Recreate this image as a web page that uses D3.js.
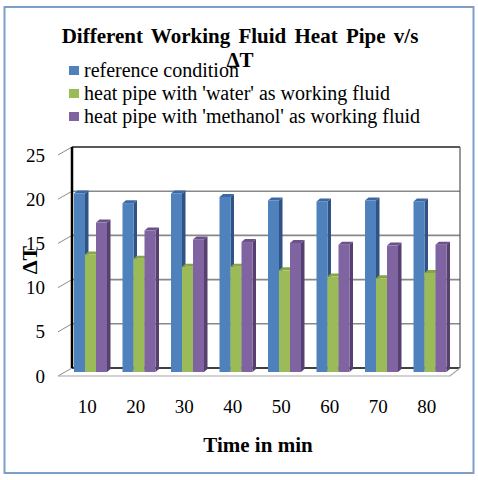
<!DOCTYPE html>
<html>
<head>
<meta charset="utf-8">
<script src="https://cdn.jsdelivr.net/npm/d3@7"></script>
<style>
  body { margin: 0; background: #fff; }
</style>
</head>
<body>
<div id="chart"></div>
<script>
// data
const times = ['10', '20', '30', '40', '50', '60', '70', '80']
const seriesNames = [
  'reference condition',
  "heat pipe with 'water' as working fluid",
  "heat pipe with 'methanol' as working fluid",
]
const reference = [20.2, 19.1, 20.2, 19.8, 19.4, 19.3, 19.4, 19.3]
const water = [13.3, 12.8, 11.9, 11.9, 11.5, 10.8, 10.6, 11.2]
const methanol = [16.9, 16.0, 15.0, 14.7, 14.6, 14.4, 14.3, 14.4]
const yTicks = [0, 5, 10, 15, 20, 25]

const seriesValues = [reference, water, methanol]
const colors = [
  { front: '#4f81bd', side: '#2f5384', top: '#3c69a5' },
  { front: '#9bbb59', side: '#6f8a3a', top: '#86a546' },
  { front: '#8064a2', side: '#56406f', top: '#6a5189' },
]

const serif = "'Liberation Serif', 'Times New Roman', Times, serif"

const dms = { width: 478, height: 480 }
// 3d box: front floor and back wall
const front = { left: 62, right: 450, bottom: 376 }
const depth = { dx: 10, dy: -8 }

const svg = d3.select('#chart')
  .append('svg')
  .attr('width', dms.width)
  .attr('height', dms.height)
  .attr('font-family', serif)

// outer frame
svg.append('rect')
  .attr('x', 4.5).attr('y', 7)
  .attr('width', 469).attr('height', 466)
  .attr('fill', 'none')
  .attr('stroke', '#7f9fc9')
  .attr('stroke-width', 2)

// scales: y on the back wall, x along the front floor
const yScale = d3.scaleLinear()
  .domain([0, 25])
  .range([front.bottom + depth.dy, 147])

const xScale = d3.scaleBand()
  .domain(times)
  .range([front.left, front.right])

const xInner = d3.scaleBand()
  .domain(d3.range(3))
  .range([7, 40])

const backLeft = front.left + depth.dx
const backRight = front.right + depth.dx

// back wall grid
const grid = svg.append('g').attr('id', 'grid')
grid.selectAll('line.h')
  .data(yTicks)
  .join('line')
  .attr('class', 'h')
  .attr('x1', backLeft).attr('x2', backRight)
  .attr('y1', d => yScale(d)).attr('y2', d => yScale(d))
  .attr('stroke', d => d === 0 ? '#000' : (d === 25 ? '#222' : '#888'))
  .attr('stroke-width', 1.6)

// left wall: diagonal ticks to the front
grid.selectAll('line.d')
  .data(yTicks)
  .join('line')
  .attr('class', 'd')
  .attr('x1', front.left - 4).attr('x2', backLeft)
  .attr('y1', d => yScale(d) - depth.dy).attr('y2', d => yScale(d))
  .attr('stroke', '#8c8c8c')
  .attr('stroke-width', 1)

// back wall left (axis) and right edges
grid.append('line')
  .attr('x1', backLeft).attr('x2', backLeft)
  .attr('y1', yScale(0)).attr('y2', yScale(25))
  .attr('stroke', '#000').attr('stroke-width', 2.5)
grid.append('line')
  .attr('x1', backRight).attr('x2', backRight)
  .attr('y1', yScale(0)).attr('y2', yScale(25))
  .attr('stroke', '#555').attr('stroke-width', 1.2)

// floor front edge and right edge
grid.append('path')
  .attr('d', `M${front.left - 4},${front.bottom} L${front.right},${front.bottom} L${backRight},${yScale(0)}`)
  .attr('fill', 'none')
  .attr('stroke', '#a6a6a6')
  .attr('stroke-width', 1.2)

// bars, sitting half way into the depth
const mid = { dx: depth.dx / 2, dy: depth.dy / 2 }
const barW = xInner.bandwidth()
const side = { dx: 3.5, dy: -3 }

const bars = []
times.forEach((t, i) => {
  seriesValues.forEach((vals, s) => {
    bars.push({ t, s, v: vals[i] })
  })
})

const barG = svg.append('g').attr('id', 'bars')
  .selectAll('g')
  .data(bars)
  .join('g')

barG.each(function (d) {
  const g = d3.select(this)
  const x0 = xScale(d.t) + xInner(d.s) + mid.dx
  const x1 = x0 + barW
  const yb = yScale(0) - depth.dy + mid.dy
  const yt = yScale(d.v) - depth.dy + mid.dy
  const c = colors[d.s]
  // right side
  g.append('path')
    .attr('d', `M${x1},${yb} L${x1 + side.dx},${yb + side.dy} L${x1 + side.dx},${yt + side.dy} L${x1},${yt}Z`)
    .attr('fill', c.side)
  // top
  g.append('path')
    .attr('d', `M${x0},${yt} L${x0 + side.dx},${yt + side.dy} L${x1 + side.dx},${yt + side.dy} L${x1},${yt}Z`)
    .attr('fill', c.top)
  // front
  g.append('rect')
    .attr('x', x0).attr('y', yt)
    .attr('width', barW).attr('height', yb - yt)
    .attr('fill', c.front)
})

// y tick labels at the front
svg.append('g')
  .selectAll('text')
  .data(yTicks)
  .join('text')
  .attr('x', 45)
  .attr('y', d => yScale(d) - depth.dy)
  .attr('dy', '0.35em')
  .attr('text-anchor', 'end')
  .attr('font-size', 19)
  .text(d => d)

// x tick labels
svg.append('g')
  .selectAll('text')
  .data(times)
  .join('text')
  .attr('x', d => xScale(d) + xScale.bandwidth() / 2 + 1)
  .attr('y', 413)
  .attr('text-anchor', 'middle')
  .attr('font-size', 19)
  .text(d => d)

// axis titles
svg.append('text')
  .attr('x', 258).attr('y', 452)
  .attr('text-anchor', 'middle')
  .attr('font-size', 21)
  .attr('font-weight', 'bold')
  .text('Time in min')

svg.append('text')
  .attr('transform', 'translate(37,260) rotate(-90)')
  .attr('text-anchor', 'middle')
  .attr('font-size', 22)
  .attr('font-weight', 'bold')
  .text('ΔT')

// chart title (second line sits under the legend text)
svg.append('text')
  .attr('x', 240).attr('y', 43)
  .attr('text-anchor', 'middle')
  .attr('font-size', 21)
  .attr('font-weight', 'bold')
  .attr('word-spacing', 3)
  .text('Different Working Fluid Heat Pipe v/s')

// legend
const legend = svg.append('g')
  .attr('id', 'legend')
  .selectAll('g')
  .data(seriesNames)
  .join('g')
  .attr('transform', (d, i) => `translate(69, ${66 + i * 23})`)

legend.append('rect')
  .attr('width', 10).attr('height', 9)
  .attr('fill', (d, i) => colors[i].front)

legend.append('text')
  .attr('x', 15).attr('y', 11)
  .attr('font-size', 20)
  .text(d => d)

svg.append('text')
  .attr('x', 240).attr('y', 67)
  .attr('text-anchor', 'middle')
  .attr('font-size', 21)
  .attr('font-weight', 'bold')
  .text('ΔT')
</script>
</body>
</html>
